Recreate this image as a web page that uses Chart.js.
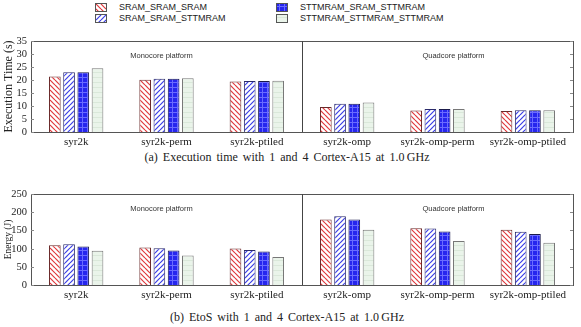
<!DOCTYPE html>
<html>
<head>
<meta charset="utf-8">
<script src="https://cdn.jsdelivr.net/npm/chart.js@4.4.1/dist/chart.umd.min.js"></script>
<style>
  body { margin: 0; background: #fff; width: 581px; height: 327px; position: relative; overflow: hidden; }
  .box { position: absolute; left: 0; width: 581px; height: 120px; }
  .caption { position: absolute; left: 0; width: 574px; text-align: center; font: 12px "Liberation Serif", serif; color: #222; word-spacing: 2px; }
  .legend { position: absolute; font: 9px "Liberation Sans", sans-serif; color: #222; }
  .legend canvas { position: absolute; left: 0; top: 1px; border: 1px solid #555; }
  .legend span { position: absolute; left: 24px; top: 0; white-space: nowrap; }
  .ytick { position: absolute; z-index: 5; font: 10.5px "Liberation Serif", serif; line-height: 12px; color: #222; text-align: right; width: 24px; }
</style>
</head>
<body>

<div class="legend" style="left:95px;top:2px"><canvas id="lg0" width="10" height="7"></canvas><span>SRAM_SRAM_SRAM</span></div>
<div class="legend" style="left:95px;top:13px"><canvas id="lg1" width="10" height="7"></canvas><span>SRAM_SRAM_STTMRAM</span></div>
<div class="legend" style="left:276px;top:2px"><canvas id="lg2" width="10" height="7"></canvas><span>STTMRAM_SRAM_STTMRAM</span></div>
<div class="legend" style="left:276px;top:13px"><canvas id="lg3" width="10" height="7"></canvas><span>STTMRAM_STTMRAM_STTMRAM</span></div>

<div class="box" id="timeBox" style="top:30px"><canvas id="timeChart"></canvas></div>
<div class="caption" style="top:150px">(a) Execution time with 1 and 4 Cortex-A15 at 1.0&#8201;GHz</div>

<div class="box" id="energyBox" style="top:183px"><canvas id="energyChart"></canvas></div>
<div class="caption" style="top:310px">(b) EtoS with 1 and 4 Cortex-A15 at 1.0&#8201;GHz</div>

<script>
const categories = ['syr2k', 'syr2k-perm', 'syr2k-ptiled', 'syr2k-omp', 'syr2k-omp-perm', 'syr2k-omp-ptiled'];
const seriesNames = ['SRAM_SRAM_SRAM', 'SRAM_SRAM_STTMRAM', 'STTMRAM_SRAM_STTMRAM', 'STTMRAM_STTMRAM_STTMRAM'];

// execution time (s)
const timeSRAM = [21.3, 20.1, 19.4, 9.6, 8.3, 8.1];
const timeSRAM_STT = [23.0, 20.5, 19.6, 10.9, 8.8, 8.4];
const timeSTT_SRAM_STT = [23.0, 20.5, 19.6, 10.9, 8.8, 8.4];
const timeSTT = [24.5, 20.7, 19.7, 11.3, 8.8, 8.4];

// energy (J)
const energySRAM = [109, 103, 100, 180, 156, 152];
const energySRAM_STT = [112, 101, 96, 189, 155, 146];
const energySTT_SRAM_STT = [106, 95, 92, 180, 147, 140];
const energySTT = [94, 81, 77, 152, 121, 116];

const timeTicks = [0, 5, 10, 15, 20, 25, 30, 35];
const energyTicks = [0, 50, 100, 150, 200, 250];

// hatch patterns
function tile(bg, fg, kind) {
    const c = document.createElement('canvas');
    c.width = 5; c.height = 5;
    const g = c.getContext('2d');
    g.fillStyle = bg;
    g.fillRect(0, 0, 5, 5);
    g.strokeStyle = fg;
    g.fillStyle = fg;
    g.lineWidth = 1.2;
    if (kind == 'back') {
        for (let k = -5; k <= 5; k += 5) {
            g.beginPath(); g.moveTo(0, k); g.lineTo(5, k + 5); g.stroke();
        }
    } else if (kind == 'fwd') {
        for (let k = 0; k <= 10; k += 5) {
            g.beginPath(); g.moveTo(0, k); g.lineTo(5, k - 5); g.stroke();
        }
    } else if (kind == 'grid') {
        g.fillRect(0, 2, 5, 1);
        g.fillRect(2, 0, 1, 5);
    } else {
        g.fillRect(0, 2, 5, 0.6);
    }
    return c;
}

const tiles = [
    tile('#ffffff', '#e0393c', 'back'),
    tile('#ffffff', '#3b3fe6', 'fwd'),
    tile('#2626ee', '#6a6cff', 'grid'),
    tile('#eaf4ea', '#cfe0cf', 'horiz')
];
const borders = ['#6a2a2a', '#2a2a6a', '#1a1a4a', '#777777'];

const ctxTmp = document.createElement('canvas').getContext('2d');
const patterns = tiles.map(t => ctxTmp.createPattern(t, 'repeat'));

for (let i = 0; i < 4; i++) {
    const lg = document.getElementById('lg' + i).getContext('2d');
    lg.fillStyle = lg.createPattern(tiles[i], 'repeat');
    lg.fillRect(0, 0, 10, 7);
}

const framePlugin = {
    id: 'frame',
    afterDraw(chart) {
        const a = chart.chartArea;
        const x = chart.scales.x;
        const y = chart.scales.y;
        const ctx = chart.ctx;
        const opts = chart.options.plugins.frame;
        ctx.save();
        ctx.strokeStyle = '#555';
        ctx.lineWidth = 1;
        ctx.strokeRect(a.left + 0.5, a.top + 0.5, a.right - a.left, a.bottom - a.top);
        // inward tick marks
        ctx.strokeStyle = '#888';
        opts.ticks.forEach(v => {
            const py = Math.round(y.getPixelForValue(v)) + 0.5;
            ctx.beginPath();
            ctx.moveTo(a.left, py); ctx.lineTo(a.left + 3, py);
            ctx.moveTo(a.right, py); ctx.lineTo(a.right - 3, py);
            ctx.stroke();
        });
        // divider between monocore and quadcore
        const mid = Math.round((x.getPixelForValue(2) + x.getPixelForValue(3)) / 2) + 0.5;
        ctx.strokeStyle = '#444';
        ctx.beginPath();
        ctx.moveTo(mid, a.top); ctx.lineTo(mid, a.bottom);
        ctx.stroke();
        ctx.fillStyle = '#333';
        ctx.font = '7.5px "Liberation Sans", sans-serif';
        ctx.textAlign = 'center';
        ctx.textBaseline = 'middle';
        ctx.fillText('Monocore platform', x.getPixelForValue(1) - 5, a.top + 15);
        ctx.fillText('Quadcore platform', x.getPixelForValue(4) + 16, a.top + 15);
        // y axis title
        ctx.fillStyle = '#222';
        ctx.font = opts.titleSize + 'px "Liberation Serif", serif';
        ctx.translate(opts.titleX, (a.top + a.bottom) / 2);
        ctx.rotate(-Math.PI / 2);
        ctx.fillText(opts.title, 0, 0);
        ctx.restore();
    }
};

function createGraph(id, seriesData, ticks, yTitle, yTitleSize, titleX) {
    const datasets = seriesData.map((d, i) => ({
        label: seriesNames[i],
        data: d,
        backgroundColor: patterns[i],
        borderColor: borders[i],
        borderWidth: 1,
        categoryPercentage: 0.63,
        barPercentage: 0.82
    }));
    return new Chart(document.getElementById(id), {
        type: 'bar',
        data: { labels: categories, datasets: datasets },
        options: {
            responsive: false,
            maintainAspectRatio: false,
            animation: false,
            layout: { padding: { top: 11, right: 8, left: 0, bottom: 0 } },
            plugins: {
                legend: { display: false },
                tooltip: { enabled: false },
                frame: { title: yTitle, titleSize: yTitleSize, titleX: titleX, ticks: ticks }
            },
            scales: {
                x: {
                    grid: { display: false, drawTicks: false },
                    border: { display: false },
                    ticks: { color: '#222', font: { family: 'Liberation Serif', size: 11 }, padding: 4, maxRotation: 0, autoSkip: false },
                    afterFit: s => { s.height = 18; }
                },
                y: {
                    min: ticks[0],
                    max: ticks[ticks.length - 1],
                    grid: { display: false, drawTicks: false },
                    border: { display: false },
                    ticks: { display: false },
                    afterFit: s => { s.width = 31; }
                }
            }
        },
        plugins: [framePlugin]
    });
}

// y tick labels as text, placed with the chart's own y scale
function addTickLabels(chart, boxId, ticks) {
    const box = document.getElementById(boxId);
    const y = chart.scales.y;
    const a = chart.chartArea;
    ticks.forEach(v => {
        const el = document.createElement('div');
        el.className = 'ytick';
        el.textContent = String(v);
        el.style.left = (a.left - 28) + 'px';
        el.style.top = (box.offsetTop + y.getPixelForValue(v) - 6) + 'px';
        document.body.appendChild(el);
    });
}

document.getElementById('timeChart').width = 581;
document.getElementById('timeChart').height = 120;
document.getElementById('energyChart').width = 581;
document.getElementById('energyChart').height = 120;

const timeChart = createGraph('timeChart', [timeSRAM, timeSRAM_STT, timeSTT_SRAM_STT, timeSTT], timeTicks, 'Execution Time (s)', 12, 9);
const energyChart = createGraph('energyChart', [energySRAM, energySRAM_STT, energySTT_SRAM_STT, energySTT], energyTicks, 'Energy (J)', 9.5, 8);

addTickLabels(timeChart, 'timeBox', timeTicks);
addTickLabels(energyChart, 'energyBox', energyTicks);
</script>
</body>
</html>
